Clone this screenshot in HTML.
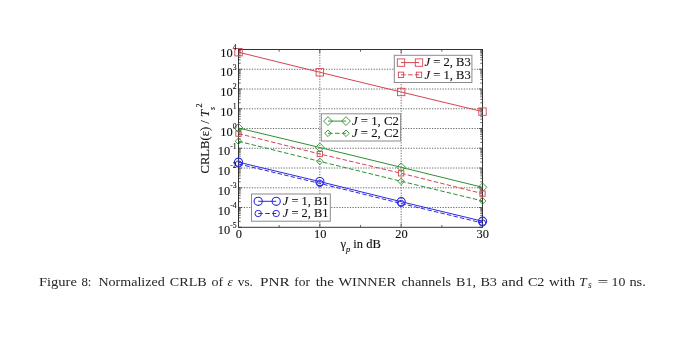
<!DOCTYPE html>
<html><head><meta charset="utf-8"><style>html,body{margin:0;padding:0;background:#fff;width:685px;height:352px;overflow:hidden}svg{display:block;filter:blur(0.45px)}</style></head>
<body>
<svg width="685" height="352" viewBox="0 0 685 352">
<rect x="0" y="0" width="685" height="352" fill="#fff"/>
<path d="M238.5 207.54H482.5 M238.5 187.79H482.5 M238.5 168.03H482.5 M238.5 148.28H482.5 M238.5 128.52H482.5 M238.5 108.77H482.5 M238.5 89.01H482.5 M238.5 69.26H482.5 M319.83 49.5V227.3 M401.17 49.5V227.3" stroke="#6a6a6a" stroke-width="1" stroke-dasharray="1.25 1.4" fill="none"/>
<path d="M238.5 227.30h3.5M482.5 227.30h-3.5 M238.5 221.35h2.2M482.5 221.35h-2.2 M238.5 217.87h2.2M482.5 217.87h-2.2 M238.5 215.41h2.2M482.5 215.41h-2.2 M238.5 213.49h2.2M482.5 213.49h-2.2 M238.5 211.93h2.2M482.5 211.93h-2.2 M238.5 210.60h2.2M482.5 210.60h-2.2 M238.5 209.46h2.2M482.5 209.46h-2.2 M238.5 208.45h2.2M482.5 208.45h-2.2 M238.5 207.54h3.5M482.5 207.54h-3.5 M238.5 201.60h2.2M482.5 201.60h-2.2 M238.5 198.12h2.2M482.5 198.12h-2.2 M238.5 195.65h2.2M482.5 195.65h-2.2 M238.5 193.74h2.2M482.5 193.74h-2.2 M238.5 192.17h2.2M482.5 192.17h-2.2 M238.5 190.85h2.2M482.5 190.85h-2.2 M238.5 189.70h2.2M482.5 189.70h-2.2 M238.5 188.69h2.2M482.5 188.69h-2.2 M238.5 187.79h3.5M482.5 187.79h-3.5 M238.5 181.84h2.2M482.5 181.84h-2.2 M238.5 178.36h2.2M482.5 178.36h-2.2 M238.5 175.89h2.2M482.5 175.89h-2.2 M238.5 173.98h2.2M482.5 173.98h-2.2 M238.5 172.42h2.2M482.5 172.42h-2.2 M238.5 171.09h2.2M482.5 171.09h-2.2 M238.5 169.95h2.2M482.5 169.95h-2.2 M238.5 168.94h2.2M482.5 168.94h-2.2 M238.5 168.03h3.5M482.5 168.03h-3.5 M238.5 162.09h2.2M482.5 162.09h-2.2 M238.5 158.61h2.2M482.5 158.61h-2.2 M238.5 156.14h2.2M482.5 156.14h-2.2 M238.5 154.22h2.2M482.5 154.22h-2.2 M238.5 152.66h2.2M482.5 152.66h-2.2 M238.5 151.34h2.2M482.5 151.34h-2.2 M238.5 150.19h2.2M482.5 150.19h-2.2 M238.5 149.18h2.2M482.5 149.18h-2.2 M238.5 148.28h3.5M482.5 148.28h-3.5 M238.5 142.33h2.2M482.5 142.33h-2.2 M238.5 138.85h2.2M482.5 138.85h-2.2 M238.5 136.38h2.2M482.5 136.38h-2.2 M238.5 134.47h2.2M482.5 134.47h-2.2 M238.5 132.90h2.2M482.5 132.90h-2.2 M238.5 131.58h2.2M482.5 131.58h-2.2 M238.5 130.44h2.2M482.5 130.44h-2.2 M238.5 129.43h2.2M482.5 129.43h-2.2 M238.5 128.52h3.5M482.5 128.52h-3.5 M238.5 122.58h2.2M482.5 122.58h-2.2 M238.5 119.10h2.2M482.5 119.10h-2.2 M238.5 116.63h2.2M482.5 116.63h-2.2 M238.5 114.71h2.2M482.5 114.71h-2.2 M238.5 113.15h2.2M482.5 113.15h-2.2 M238.5 111.83h2.2M482.5 111.83h-2.2 M238.5 110.68h2.2M482.5 110.68h-2.2 M238.5 109.67h2.2M482.5 109.67h-2.2 M238.5 108.77h3.5M482.5 108.77h-3.5 M238.5 102.82h2.2M482.5 102.82h-2.2 M238.5 99.34h2.2M482.5 99.34h-2.2 M238.5 96.87h2.2M482.5 96.87h-2.2 M238.5 94.96h2.2M482.5 94.96h-2.2 M238.5 93.39h2.2M482.5 93.39h-2.2 M238.5 92.07h2.2M482.5 92.07h-2.2 M238.5 90.93h2.2M482.5 90.93h-2.2 M238.5 89.92h2.2M482.5 89.92h-2.2 M238.5 89.01h3.5M482.5 89.01h-3.5 M238.5 83.06h2.2M482.5 83.06h-2.2 M238.5 79.59h2.2M482.5 79.59h-2.2 M238.5 77.12h2.2M482.5 77.12h-2.2 M238.5 75.20h2.2M482.5 75.20h-2.2 M238.5 73.64h2.2M482.5 73.64h-2.2 M238.5 72.32h2.2M482.5 72.32h-2.2 M238.5 71.17h2.2M482.5 71.17h-2.2 M238.5 70.16h2.2M482.5 70.16h-2.2 M238.5 69.26h3.5M482.5 69.26h-3.5 M238.5 63.31h2.2M482.5 63.31h-2.2 M238.5 59.83h2.2M482.5 59.83h-2.2 M238.5 57.36h2.2M482.5 57.36h-2.2 M238.5 55.45h2.2M482.5 55.45h-2.2 M238.5 53.88h2.2M482.5 53.88h-2.2 M238.5 52.56h2.2M482.5 52.56h-2.2 M238.5 51.41h2.2M482.5 51.41h-2.2 M238.5 50.40h2.2M482.5 50.40h-2.2 M238.5 49.50h3.5M482.5 49.50h-3.5 M238.50 227.3v-3.8M238.50 49.5v3.8 M279.17 227.3v-2.2M279.17 49.5v2.2 M319.83 227.3v-3.8M319.83 49.5v3.8 M360.50 227.3v-2.2M360.50 49.5v2.2 M401.17 227.3v-3.8M401.17 49.5v3.8 M441.83 227.3v-2.2M441.83 49.5v2.2 M482.50 227.3v-3.8M482.50 49.5v3.8" stroke="#3a3a3a" stroke-width="0.8" fill="none"/>
<rect x="238.5" y="49.5" width="244.0" height="177.8" fill="none" stroke="#333" stroke-width="1"/>
<polyline points="238.50,52.20 319.83,72.30 401.17,92.00 482.50,111.60" fill="none" stroke="#d64450" stroke-width="1"/>
<rect x="234.80" y="48.50" width="7.4" height="7.4" fill="none" stroke="#d64450" stroke-width="0.9"/>
<rect x="316.13" y="68.60" width="7.4" height="7.4" fill="none" stroke="#d64450" stroke-width="0.9"/>
<rect x="397.47" y="88.30" width="7.4" height="7.4" fill="none" stroke="#d64450" stroke-width="0.9"/>
<rect x="478.80" y="107.90" width="7.4" height="7.4" fill="none" stroke="#d64450" stroke-width="0.9"/>
<polyline points="238.50,133.60 319.83,154.00 401.17,173.30 482.50,193.60" fill="none" stroke="#d64450" stroke-width="1" stroke-dasharray="4.5 2.2"/>
<rect x="235.85" y="130.95" width="5.3" height="5.3" fill="none" stroke="#d64450" stroke-width="0.9"/>
<rect x="317.18" y="151.35" width="5.3" height="5.3" fill="none" stroke="#d64450" stroke-width="0.9"/>
<rect x="398.52" y="170.65" width="5.3" height="5.3" fill="none" stroke="#d64450" stroke-width="0.9"/>
<rect x="479.85" y="190.95" width="5.3" height="5.3" fill="none" stroke="#d64450" stroke-width="0.9"/>
<polyline points="238.50,128.00 319.83,147.50 401.17,167.30 482.50,187.30" fill="none" stroke="#2f902f" stroke-width="1"/>
<path d="M234.10 128.00L238.50 123.60L242.90 128.00L238.50 132.40Z" fill="none" stroke="#2f902f" stroke-width="0.9"/>
<path d="M315.43 147.50L319.83 143.10L324.23 147.50L319.83 151.90Z" fill="none" stroke="#2f902f" stroke-width="0.9"/>
<path d="M396.77 167.30L401.17 162.90L405.57 167.30L401.17 171.70Z" fill="none" stroke="#2f902f" stroke-width="0.9"/>
<path d="M478.10 187.30L482.50 182.90L486.90 187.30L482.50 191.70Z" fill="none" stroke="#2f902f" stroke-width="0.9"/>
<polyline points="238.50,141.30 319.83,161.40 401.17,181.30 482.50,200.90" fill="none" stroke="#2f902f" stroke-width="1" stroke-dasharray="4.5 2.2"/>
<path d="M235.20 141.30L238.50 138.00L241.80 141.30L238.50 144.60Z" fill="none" stroke="#2f902f" stroke-width="0.9"/>
<path d="M316.53 161.40L319.83 158.10L323.13 161.40L319.83 164.70Z" fill="none" stroke="#2f902f" stroke-width="0.9"/>
<path d="M397.87 181.30L401.17 178.00L404.47 181.30L401.17 184.60Z" fill="none" stroke="#2f902f" stroke-width="0.9"/>
<path d="M479.20 200.90L482.50 197.60L485.80 200.90L482.50 204.20Z" fill="none" stroke="#2f902f" stroke-width="0.9"/>
<polyline points="238.50,162.20 319.83,181.60 401.17,201.70 482.50,221.20" fill="none" stroke="#2a2ae0" stroke-width="1"/>
<circle cx="238.50" cy="162.20" r="4.1" fill="none" stroke="#2a2ae0" stroke-width="1.1"/>
<circle cx="319.83" cy="181.60" r="4.1" fill="none" stroke="#2a2ae0" stroke-width="1.1"/>
<circle cx="401.17" cy="201.70" r="4.1" fill="none" stroke="#2a2ae0" stroke-width="1.1"/>
<circle cx="482.50" cy="221.20" r="4.1" fill="none" stroke="#2a2ae0" stroke-width="1.1"/>
<polyline points="238.50,164.00 319.83,183.40 401.17,203.50 482.50,223.00" fill="none" stroke="#2a2ae0" stroke-width="1" stroke-dasharray="4.5 2.2"/>
<circle cx="238.50" cy="164.00" r="3.2" fill="none" stroke="#2a2ae0" stroke-width="1"/>
<circle cx="319.83" cy="183.40" r="3.2" fill="none" stroke="#2a2ae0" stroke-width="1"/>
<circle cx="401.17" cy="203.50" r="3.2" fill="none" stroke="#2a2ae0" stroke-width="1"/>
<circle cx="482.50" cy="223.00" r="3.2" fill="none" stroke="#2a2ae0" stroke-width="1"/>
<text transform="translate(236.6,234.30) scale(0.92,1)" font-family="Liberation Serif, serif" font-size="13.5" text-anchor="end" fill="#111" stroke="#111" stroke-width="0.12">10<tspan dy="-6.6" font-size="8.4">-5</tspan></text>
<text transform="translate(236.6,214.54) scale(0.92,1)" font-family="Liberation Serif, serif" font-size="13.5" text-anchor="end" fill="#111" stroke="#111" stroke-width="0.12">10<tspan dy="-6.6" font-size="8.4">-4</tspan></text>
<text transform="translate(236.6,194.79) scale(0.92,1)" font-family="Liberation Serif, serif" font-size="13.5" text-anchor="end" fill="#111" stroke="#111" stroke-width="0.12">10<tspan dy="-6.6" font-size="8.4">-3</tspan></text>
<text transform="translate(236.6,175.03) scale(0.92,1)" font-family="Liberation Serif, serif" font-size="13.5" text-anchor="end" fill="#111" stroke="#111" stroke-width="0.12">10<tspan dy="-6.6" font-size="8.4">-2</tspan></text>
<text transform="translate(236.6,155.28) scale(0.92,1)" font-family="Liberation Serif, serif" font-size="13.5" text-anchor="end" fill="#111" stroke="#111" stroke-width="0.12">10<tspan dy="-6.6" font-size="8.4">-1</tspan></text>
<text transform="translate(236.6,135.52) scale(0.92,1)" font-family="Liberation Serif, serif" font-size="13.5" text-anchor="end" fill="#111" stroke="#111" stroke-width="0.12">10<tspan dy="-6.6" font-size="8.4">0</tspan></text>
<text transform="translate(236.6,115.77) scale(0.92,1)" font-family="Liberation Serif, serif" font-size="13.5" text-anchor="end" fill="#111" stroke="#111" stroke-width="0.12">10<tspan dy="-6.6" font-size="8.4">1</tspan></text>
<text transform="translate(236.6,96.01) scale(0.92,1)" font-family="Liberation Serif, serif" font-size="13.5" text-anchor="end" fill="#111" stroke="#111" stroke-width="0.12">10<tspan dy="-6.6" font-size="8.4">2</tspan></text>
<text transform="translate(236.6,76.26) scale(0.92,1)" font-family="Liberation Serif, serif" font-size="13.5" text-anchor="end" fill="#111" stroke="#111" stroke-width="0.12">10<tspan dy="-6.6" font-size="8.4">3</tspan></text>
<text transform="translate(236.6,56.50) scale(0.92,1)" font-family="Liberation Serif, serif" font-size="13.5" text-anchor="end" fill="#111" stroke="#111" stroke-width="0.12">10<tspan dy="-6.6" font-size="8.4">4</tspan></text>
<text transform="translate(238.80,238.3) scale(0.93,1)" font-family="Liberation Serif, serif" font-size="13.4" text-anchor="middle" fill="#111" stroke="#111" stroke-width="0.12">0</text>
<text transform="translate(320.13,238.3) scale(0.93,1)" font-family="Liberation Serif, serif" font-size="13.4" text-anchor="middle" fill="#111" stroke="#111" stroke-width="0.12">10</text>
<text transform="translate(401.47,238.3) scale(0.93,1)" font-family="Liberation Serif, serif" font-size="13.4" text-anchor="middle" fill="#111" stroke="#111" stroke-width="0.12">20</text>
<text transform="translate(482.80,238.3) scale(0.93,1)" font-family="Liberation Serif, serif" font-size="13.4" text-anchor="middle" fill="#111" stroke="#111" stroke-width="0.12">30</text>
<text x="360.6" y="248.4" font-family="Liberation Serif, serif" font-size="12.5" text-anchor="middle" fill="#111" stroke="#111" stroke-width="0.12">γ<tspan dy="3.2" font-size="8.5" font-style="italic">p</tspan><tspan dy="-3.2"> in dB</tspan></text>
<text transform="translate(209.4,138.4) rotate(-90)" font-family="Liberation Serif, serif" font-size="12.6" text-anchor="middle" fill="#111" stroke="#111" stroke-width="0.12">CRLB(ε) / <tspan font-style="italic">T</tspan><tspan dy="5.2" font-size="8" font-style="italic">s</tspan><tspan dy="-12.6" dx="-0.5" font-size="8.2">2</tspan></text>
<rect x="394.3" y="55.3" width="77.6" height="27.2" fill="#fff" stroke="#8a8a8a" stroke-width="1"/>
<path d="M401.00 62.60H419.00" stroke="#d64450" stroke-width="1"/>
<path d="M401.00 74.80H419.00" stroke="#d64450" stroke-width="1" stroke-dasharray="4.6 2.4"/>
<rect x="397.30" y="58.90" width="7.4" height="7.4" fill="none" stroke="#d64450" stroke-width="0.9"/>
<rect x="415.30" y="58.90" width="7.4" height="7.4" fill="none" stroke="#d64450" stroke-width="0.9"/>
<rect x="398.35" y="72.15" width="5.3" height="5.3" fill="none" stroke="#d64450" stroke-width="0.9"/>
<rect x="416.35" y="72.15" width="5.3" height="5.3" fill="none" stroke="#d64450" stroke-width="0.9"/>
<text x="424.50" y="66.30" font-family="Liberation Serif, serif" font-size="13.4" fill="#111" stroke="#111" stroke-width="0.12" textLength="46.3" lengthAdjust="spacingAndGlyphs"><tspan font-style="italic">J</tspan> = 2, B3</text>
<text x="424.50" y="78.50" font-family="Liberation Serif, serif" font-size="13.4" fill="#111" stroke="#111" stroke-width="0.12" textLength="46.3" lengthAdjust="spacingAndGlyphs"><tspan font-style="italic">J</tspan> = 1, B3</text>
<rect x="321.3" y="113.8" width="79.3" height="27.2" fill="#fff" stroke="#8a8a8a" stroke-width="1"/>
<path d="M328.00 121.10H346.00" stroke="#2f902f" stroke-width="1"/>
<path d="M328.00 133.30H346.00" stroke="#2f902f" stroke-width="1" stroke-dasharray="4.6 2.4"/>
<path d="M323.60 121.10L328.00 116.70L332.40 121.10L328.00 125.50Z" fill="none" stroke="#2f902f" stroke-width="0.9"/>
<path d="M341.60 121.10L346.00 116.70L350.40 121.10L346.00 125.50Z" fill="none" stroke="#2f902f" stroke-width="0.9"/>
<path d="M324.70 133.30L328.00 130.00L331.30 133.30L328.00 136.60Z" fill="none" stroke="#2f902f" stroke-width="0.9"/>
<path d="M342.70 133.30L346.00 130.00L349.30 133.30L346.00 136.60Z" fill="none" stroke="#2f902f" stroke-width="0.9"/>
<text x="351.90" y="124.80" font-family="Liberation Serif, serif" font-size="13.4" fill="#111" stroke="#111" stroke-width="0.12" textLength="47.0" lengthAdjust="spacingAndGlyphs"><tspan font-style="italic">J</tspan> = 1, C2</text>
<text x="351.90" y="137.00" font-family="Liberation Serif, serif" font-size="13.4" fill="#111" stroke="#111" stroke-width="0.12" textLength="47.0" lengthAdjust="spacingAndGlyphs"><tspan font-style="italic">J</tspan> = 2, C2</text>
<rect x="251.5" y="194.0" width="78.8" height="27.2" fill="#fff" stroke="#8a8a8a" stroke-width="1"/>
<path d="M258.20 201.30H276.20" stroke="#2a2ae0" stroke-width="1"/>
<path d="M258.20 213.50H276.20" stroke="#2a2ae0" stroke-width="1" stroke-dasharray="4.6 2.4"/>
<circle cx="258.20" cy="201.30" r="4.1" fill="none" stroke="#2a2ae0" stroke-width="1.1"/>
<circle cx="276.20" cy="201.30" r="4.1" fill="none" stroke="#2a2ae0" stroke-width="1.1"/>
<circle cx="258.20" cy="213.50" r="3.2" fill="none" stroke="#2a2ae0" stroke-width="1"/>
<circle cx="276.20" cy="213.50" r="3.2" fill="none" stroke="#2a2ae0" stroke-width="1"/>
<text x="282.80" y="205.00" font-family="Liberation Serif, serif" font-size="13.4" fill="#111" stroke="#111" stroke-width="0.12" textLength="45.7" lengthAdjust="spacingAndGlyphs"><tspan font-style="italic">J</tspan> = 1, B1</text>
<text x="282.80" y="217.20" font-family="Liberation Serif, serif" font-size="13.4" fill="#111" stroke="#111" stroke-width="0.12" textLength="45.7" lengthAdjust="spacingAndGlyphs"><tspan font-style="italic">J</tspan> = 2, B1</text>
<text x="38.9" y="285.8" font-family="Liberation Serif, serif" font-size="13.3" fill="#262626" textLength="38.0" lengthAdjust="spacingAndGlyphs">Figure</text>
<text x="81.4" y="285.8" font-family="Liberation Serif, serif" font-size="13.3" fill="#262626" textLength="10.0" lengthAdjust="spacingAndGlyphs">8:</text>
<text x="98.4" y="285.8" font-family="Liberation Serif, serif" font-size="13.3" fill="#262626" textLength="66.4" lengthAdjust="spacingAndGlyphs">Normalized</text>
<text x="169.8" y="285.8" font-family="Liberation Serif, serif" font-size="13.3" fill="#262626" textLength="36.9" lengthAdjust="spacingAndGlyphs">CRLB</text>
<text x="211.5" y="285.8" font-family="Liberation Serif, serif" font-size="13.3" fill="#262626" textLength="11.7" lengthAdjust="spacingAndGlyphs">of</text>
<text x="237.8" y="285.8" font-family="Liberation Serif, serif" font-size="13.3" fill="#262626" textLength="15.1" lengthAdjust="spacingAndGlyphs">vs.</text>
<text x="260.0" y="285.8" font-family="Liberation Serif, serif" font-size="13.3" fill="#262626" textLength="29.7" lengthAdjust="spacingAndGlyphs">PNR</text>
<text x="294.2" y="285.8" font-family="Liberation Serif, serif" font-size="13.3" fill="#262626" textLength="15.7" lengthAdjust="spacingAndGlyphs">for</text>
<text x="315.7" y="285.8" font-family="Liberation Serif, serif" font-size="13.3" fill="#262626" textLength="18.3" lengthAdjust="spacingAndGlyphs">the</text>
<text x="338.5" y="285.8" font-family="Liberation Serif, serif" font-size="13.3" fill="#262626" textLength="57.7" lengthAdjust="spacingAndGlyphs">WINNER</text>
<text x="401.6" y="285.8" font-family="Liberation Serif, serif" font-size="13.3" fill="#262626" textLength="49.5" lengthAdjust="spacingAndGlyphs">channels</text>
<text x="456.1" y="285.8" font-family="Liberation Serif, serif" font-size="13.3" fill="#262626" textLength="19.9" lengthAdjust="spacingAndGlyphs">B1,</text>
<text x="480.4" y="285.8" font-family="Liberation Serif, serif" font-size="13.3" fill="#262626" textLength="16.6" lengthAdjust="spacingAndGlyphs">B3</text>
<text x="501.6" y="285.8" font-family="Liberation Serif, serif" font-size="13.3" fill="#262626" textLength="21.8" lengthAdjust="spacingAndGlyphs">and</text>
<text x="527.9" y="285.8" font-family="Liberation Serif, serif" font-size="13.3" fill="#262626" textLength="16.5" lengthAdjust="spacingAndGlyphs">C2</text>
<text x="548.9" y="285.8" font-family="Liberation Serif, serif" font-size="13.3" fill="#262626" textLength="26.2" lengthAdjust="spacingAndGlyphs">with</text>
<text x="597.6" y="285.8" font-family="Liberation Serif, serif" font-size="13.3" fill="#262626" textLength="10.8" lengthAdjust="spacingAndGlyphs">=</text>
<text x="611.6" y="285.8" font-family="Liberation Serif, serif" font-size="13.3" fill="#262626" textLength="13.8" lengthAdjust="spacingAndGlyphs">10</text>
<text x="629.4" y="285.8" font-family="Liberation Serif, serif" font-size="13.3" fill="#262626" textLength="16.4" lengthAdjust="spacingAndGlyphs">ns.</text>
<text x="227.6" y="285.8" font-family="Liberation Serif, serif" font-size="13.3" font-style="italic" fill="#262626">ε</text>
<text x="579.3" y="285.8" font-family="Liberation Serif, serif" font-size="13.3" font-style="italic" fill="#262626">T<tspan dy="2.2" dx="1.2" font-size="9.5">s</tspan></text>
</svg>
</body></html>
